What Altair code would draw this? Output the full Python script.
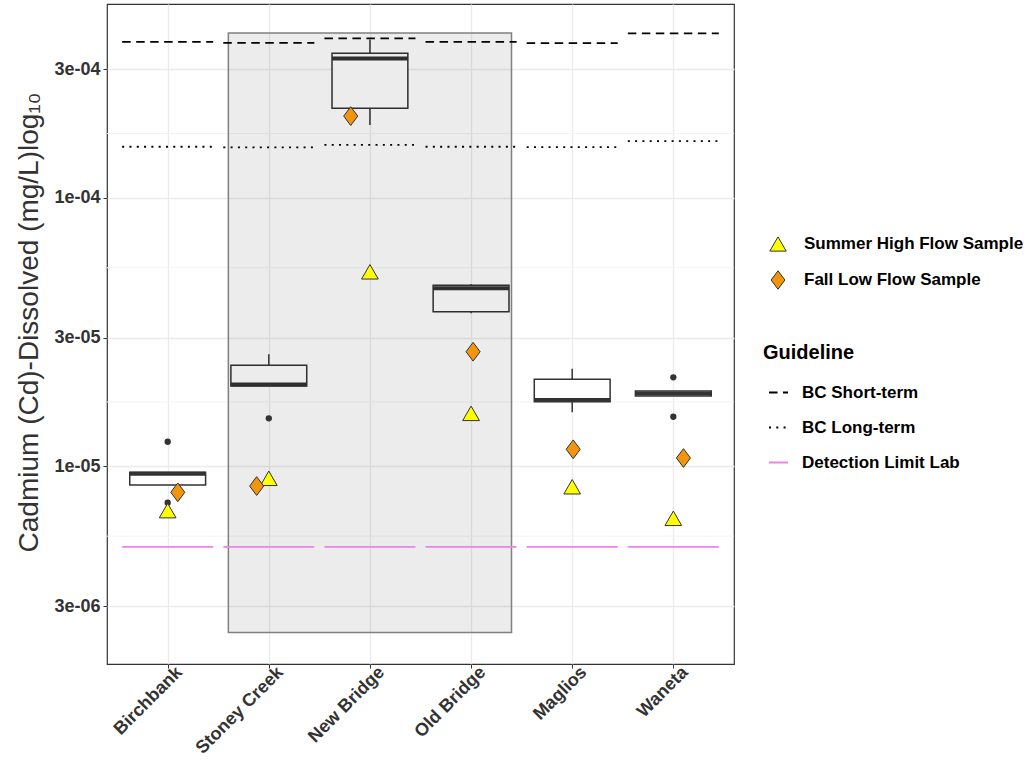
import math
import altair as alt
import pandas as pd

# ---------------- data ----------------
sites = ["Birchbank", "Stoney Creek", "New Bridge", "Old Bridge", "Maglios", "Waneta"]

whisker_low = [8.49e-6, 1.986e-5, 1.862e-4, 3.705e-5, 1.585e-5, 1.822e-5]
q1 = [8.49e-6, 1.986e-5, 2.149e-4, 3.756e-5, 1.736e-5, 1.822e-5]
median = [9.36e-6, 2.014e-5, 3.294e-4, 4.59e-5, 1.761e-5, 1.862e-5]
q3 = [9.47e-6, 2.371e-5, 3.444e-4, 4.71e-5, 2.103e-5, 1.902e-5]
whisker_high = [9.47e-6, 2.606e-5, 3.882e-4, 4.762e-5, 2.304e-5, 1.902e-5]

outlier_site = ["Birchbank", "Birchbank", "Stoney Creek", "Waneta", "Waneta"]
outlier_value = [1.231e-5, 7.30e-6, 1.505e-5, 2.14e-5, 1.526e-5]

summer_high = [6.82e-6, 9.00e-6, 5.29e-5, 1.571e-5, 8.37e-6, 6.385e-6]
fall_low = [7.98e-6, 8.42e-6, 2.011e-4, 2.665e-5, 1.154e-5, 1.071e-5]
fall_jitter = [0.10, -0.12, -0.19, 0.02, 0.01, 0.10]

bc_short = [3.804e-4, 3.771e-4, 3.916e-4, 3.804e-4, 3.762e-4, 4.088e-4]
bc_long = [1.546e-4, 1.538e-4, 1.572e-4, 1.546e-4, 1.542e-4, 1.623e-4]
detection_limit = [5e-6, 5e-6, 5e-6, 5e-6, 5e-6, 5e-6]

highlight_sites = ["Stoney Creek", "Old Bridge"]
highlight_range = [2.4e-6, 4.1e-4]

y_ticks = [3e-6, 1e-5, 3e-5, 1e-4, 3e-4]
sample_names = ["Summer High Flow Sample", "Fall Low Flow Sample"]
guide_names = ["BC Short-term", "BC Long-term", "Detection Limit Lab"]

# ---------------- tables ----------------
idx = list(range(1, len(sites) + 1))
box_df = pd.DataFrame({"site": sites, "i": idx, "lo": whisker_low, "q1": q1,
                       "med": median, "q3": q3, "hi": whisker_high})
out_df = pd.DataFrame({"i": [sites.index(s) + 1 for s in outlier_site], "v": outlier_value})
pts_df = pd.concat([
    pd.DataFrame({"sample": sample_names[0], "i": idx, "v": summer_high}),
    pd.DataFrame({"sample": sample_names[1], "i": [a + b for a, b in zip(idx, fall_jitter)], "v": fall_low}),
], ignore_index=True)
guide_df = pd.concat([
    pd.DataFrame({"guideline": name, "i": idx, "v": vals})
    for name, vals in zip(guide_names, [bc_short, bc_long, detection_limit])
], ignore_index=True)
minor_df = pd.DataFrame({"v": [math.sqrt(a * b) for a, b in zip(y_ticks[:-1], y_ticks[1:])]})
hl_df = pd.DataFrame({"a": [sites.index(highlight_sites[0]) + 1],
                      "b": [sites.index(highlight_sites[1]) + 1],
                      "y1": [highlight_range[0]], "y2": [highlight_range[1]]})

# ---------------- styling ----------------
FONT = "Liberation Sans"
DARK = "#333333"
GRID = "#ebebeb"

yscale = alt.Scale(type="log", domain=[1.83e-6, 5.26e-4], nice=False)
xscale = alt.Scale(domain=[0.4, 6.6], nice=False, zero=False)

label_js = "[" + ",".join("'" + s + "'" for s in sites) + "]"

yaxis = alt.Axis(values=y_ticks,
                 labelExpr="replace(format(datum.value, '.0e'), 'e-', 'e-0')",
                 grid=True, gridColor=GRID, gridWidth=1.3, domain=False,
                 ticks=True, tickColor=DARK, tickSize=4, tickWidth=1,
                 labelFont=FONT, labelFontSize=18, labelFontWeight="bold", labelColor=DARK,
                 labelPadding=3, labelOverlap=False, labelFlush=False,
                 titleFont=FONT, titleFontSize=28, titleFontWeight="normal", titleColor=DARK,
                 titleX=-78, titleY=318, titleAlign="center", titleBaseline="middle")
xaxis = alt.Axis(values=idx, labelExpr=label_js + "[datum.value - 1]",
                 grid=True, gridColor=GRID, gridWidth=1.3, domain=False,
                 ticks=True, tickColor=DARK, tickSize=4, tickWidth=1,
                 labelFont=FONT, labelFontSize=18, labelFontWeight="bold", labelColor=DARK,
                 labelAngle=-45, labelAlign="right", labelBaseline="top", labelPadding=-5,
                 labelOffset=5, labelOverlap=False, labelFlush=False)

YTITLE = "Cadmium (Cd)-Dissolved (mg/L)log\u2081\u2080"


def Y(field):
    return alt.Y(field + ":Q", scale=yscale, axis=yaxis, title=YTITLE)


def X(field):
    return alt.X(field + ":Q", scale=xscale, axis=xaxis, title=None)


minor = alt.Chart(minor_df).mark_rule(color="#f3f3f3", strokeWidth=1).encode(y=Y("v"))

base_box = alt.Chart(box_df).transform_calculate(xl="datum.i - 0.375", xr="datum.i + 0.375")
whisk_hi = base_box.mark_rule(color=DARK, strokeWidth=1.5).encode(x=X("i"), y=Y("q3"), y2="hi")
whisk_lo = base_box.mark_rule(color=DARK, strokeWidth=1.5).encode(x=X("i"), y=Y("lo"), y2="q1")
boxes = base_box.mark_rect(fill="white", stroke=DARK, strokeWidth=1.5).encode(
    x=X("xl"), x2="xr", y=Y("q1"), y2="q3")
medians = base_box.mark_rule(color=DARK, strokeWidth=4).encode(x=X("xl"), x2="xr", y=Y("med"))

highlight = alt.Chart(hl_df).transform_calculate(xa="datum.a - 0.4", xb="datum.b + 0.4").mark_rect(
    fill="black", fillOpacity=0.075, stroke="#808080", strokeWidth=1.5
).encode(x=X("xa"), x2="xb", y=Y("y1"), y2="y2")

outliers = alt.Chart(out_df).mark_circle(size=40, color=DARK, opacity=1).encode(x=X("i"), y=Y("v"))

guide_legend = alt.Legend(title="Guideline", orient="none", legendX=656, legendY=339,
                          titleFont=FONT, titleFontSize=20, titleFontWeight="bold", titleColor="black",
                          titlePadding=19, labelFont=FONT, labelFontSize=17, labelFontWeight="bold",
                          labelColor="black", labelLimit=0, symbolType="stroke", symbolSize=361,
                          symbolStrokeWidth=1.8, symbolOffset=5, rowPadding=16, labelOffset=13, padding=0)
guides = alt.Chart(guide_df).transform_calculate(xl="datum.i - 0.45", xr="datum.i + 0.45").mark_rule(
    strokeWidth=1.8
).encode(
    x=X("xl"), x2="xr", y=Y("v"),
    color=alt.Color("guideline:N", scale=alt.Scale(domain=guide_names, range=["black", "black", "violet"]),
                    legend=guide_legend),
    strokeDash=alt.StrokeDash("guideline:N",
                              scale=alt.Scale(domain=guide_names, range=[[8.5, 5.5], [2, 5.3], [1, 0]]),
                              legend=guide_legend),
)

pt_legend = alt.Legend(title=None, orient="none", legendX=656, legendY=231,
                       labelFont=FONT, labelFontSize=17, labelFontWeight="bold", labelColor="black",
                       labelLimit=0, symbolSize=270, symbolStrokeColor=DARK, symbolStrokeWidth=1,
                       symbolOffset=6, rowPadding=14, labelOffset=17, padding=0)
diamond = "M0,-1.12L0.84,0L0,1.12L-0.84,0Z"
points = alt.Chart(pts_df).mark_point(filled=True, strokeWidth=1, opacity=1, size=280).encode(
    x=X("i"), y=Y("v"),
    shape=alt.Shape("sample:N", scale=alt.Scale(domain=sample_names, range=["triangle-up", diamond]),
                    legend=pt_legend),
    fill=alt.Fill("sample:N", scale=alt.Scale(domain=sample_names, range=["#ffff00", "#f0950c"]),
                  legend=pt_legend),
    stroke=alt.Stroke("sample:N", scale=alt.Scale(domain=sample_names, range=[DARK, DARK]),
                      legend=pt_legend),
)

chart = alt.layer(
    minor, whisk_hi, whisk_lo, boxes, medians, highlight, outliers, guides, points
).properties(
    width=627, height=660,
    padding={"left": 107, "top": 4, "right": 298, "bottom": 114},
    autosize=alt.AutoSizeParams(type="none"),
    background="white",
).configure_view(stroke=DARK, strokeWidth=1.2)

chart.save("out.html", embed_options={"renderer": "svg", "actions": False})
